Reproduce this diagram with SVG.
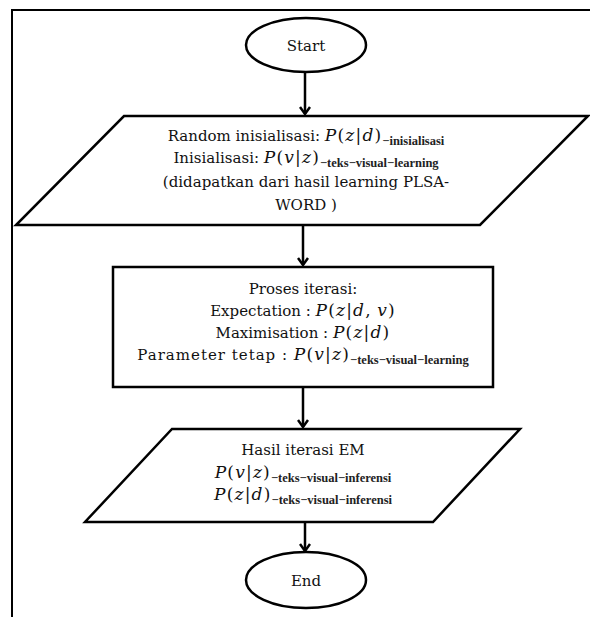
<svg xmlns="http://www.w3.org/2000/svg" width="590" height="617" viewBox="0 0 590 617">
<style>
.sh{fill:#fff;stroke:#000;stroke-width:2.5}
.t{font-family:"DejaVu Serif","Liberation Serif",serif;font-size:15px;fill:#111;text-anchor:middle}
.mm{font-size:17px;letter-spacing:1.2px}
.m{font-style:italic}
.s{font-family:"Liberation Serif","DejaVu Serif",serif;font-size:12.5px;font-weight:bold;fill:#222;letter-spacing:0}
.c{fill:none;stroke:#000;stroke-width:2.5}
</style>
<defs>
<marker id="ah" markerWidth="12" markerHeight="12" refX="10" refY="6" orient="auto" markerUnits="userSpaceOnUse" viewBox="0 0 12 12">
<path d="M3,1 L10,6 L3,11" fill="none" stroke="#000" stroke-width="2.5"/>
</marker>
</defs>
<rect x="12" y="10" width="600" height="640" fill="none" stroke="#000" stroke-width="2"/>
<g id="connectors">
<line class="c" x1="305" y1="72" x2="305" y2="114" marker-end="url(#ah)"/>
<line class="c" x1="303" y1="225" x2="303" y2="265" marker-end="url(#ah)"/>
<line class="c" x1="303" y1="387" x2="303" y2="427" marker-end="url(#ah)"/>
<line class="c" x1="305" y1="522" x2="305" y2="551" marker-end="url(#ah)"/>
</g>
<g id="start">
<ellipse class="sh" cx="306" cy="45" rx="60" ry="27"/>
<text class="t" x="306" y="51">Start</text>
</g>
<g id="init">
<polygon class="sh" points="124,116 588,116 480,225 16,225"/>
<text class="t" x="306" y="141">Random inisialisasi: <tspan class="mm"><tspan class="m">P</tspan>(<tspan class="m">z</tspan>|<tspan class="m">d</tspan>)</tspan><tspan class="s" dy="4">−inisialisasi</tspan></text>
<text class="t" x="306" y="163">Inisialisasi: <tspan class="mm"><tspan class="m">P</tspan>(<tspan class="m">v</tspan>|<tspan class="m">z</tspan>)</tspan><tspan class="s" dy="4">−teks−visual−learning</tspan></text>
<text class="t" x="306" y="187">(didapatkan dari hasil learning PLSA-</text>
<text class="t" x="306" y="210">WORD )</text>
</g>
<g id="iterasi">
<rect class="sh" x="113" y="267" width="380" height="120"/>
<text class="t" x="303" y="294">Proses iterasi:</text>
<text class="t" x="303" y="316">Expectation : <tspan class="mm"><tspan class="m">P</tspan>(<tspan class="m">z</tspan>|<tspan class="m">d</tspan>,<tspan letter-spacing="0"> </tspan><tspan class="m">v</tspan>)</tspan></text>
<text class="t" x="303" y="338">Maximisation : <tspan class="mm"><tspan class="m">P</tspan>(<tspan class="m">z</tspan>|<tspan class="m">d</tspan>)</tspan></text>
<text class="t" x="303" y="360"><tspan letter-spacing="1">Parameter tetap : </tspan><tspan class="mm"><tspan class="m">P</tspan>(<tspan class="m">v</tspan>|<tspan class="m">z</tspan>)</tspan><tspan class="s" dy="4">−teks−visual−learning</tspan></text>
</g>
<g id="hasil">
<polygon class="sh" points="172,429 520,429 433,522 85,522"/>
<text class="t" x="303" y="455">Hasil iterasi EM</text>
<text class="t" x="303" y="478"><tspan class="mm"><tspan class="m">P</tspan>(<tspan class="m">v</tspan>|<tspan class="m">z</tspan>)</tspan><tspan class="s" dy="4">−teks−visual−inferensi</tspan></text>
<text class="t" x="303" y="500"><tspan class="mm"><tspan class="m">P</tspan>(<tspan class="m">z</tspan>|<tspan class="m">d</tspan>)</tspan><tspan class="s" dy="4">−teks−visual−inferensi</tspan></text>
</g>
<g id="end">
<ellipse class="sh" cx="306" cy="580" rx="60" ry="28"/>
<text class="t" x="306" y="586">End</text>
</g>
</svg>
